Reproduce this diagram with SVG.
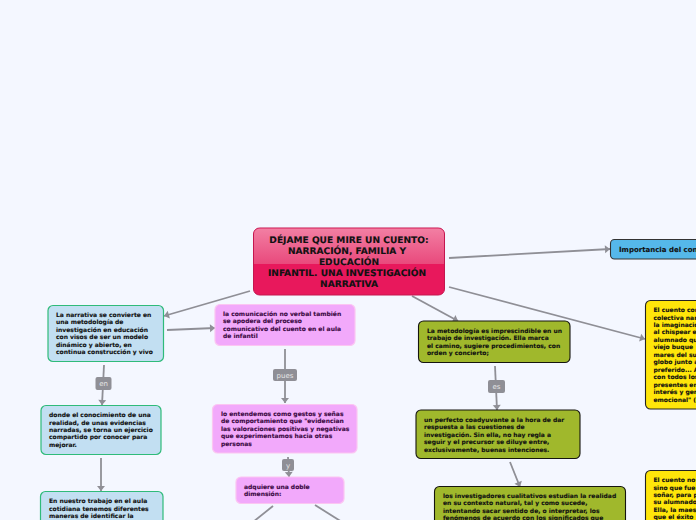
<svg xmlns="http://www.w3.org/2000/svg" width="696" height="520" viewBox="0 0 696 520">
<style>
text{font-family:"DejaVu Sans",Verdana,sans-serif;font-weight:700;font-size:6px;fill:#111;stroke:#111;stroke-width:.12;text-rendering:geometricPrecision}
.h{font-size:9.080px;text-anchor:middle}
.c{fill:none;stroke:#8f8f96;stroke-width:1.8}
.l{fill:#8f8f96}
.lt{fill:#e6e6e6;stroke:none;font-weight:400;font-size:7px;text-anchor:middle}
.blue{fill:#c2dff2;stroke:#2fbb7a;stroke-width:1.2}
.pink{fill:#f2a9fb;stroke:#fbc6f2;stroke-width:1.2}
.pt{fill:#3c0a44;stroke:#3c0a44}
.green{fill:#a0b82c;stroke:#15150f;stroke-width:1.1}
.yellow{fill:#ffe60a;stroke:#222;stroke-width:1.1}
.sky{fill:#55b8ea;stroke:#333;stroke-width:1.1}
</style>
<defs>
<linearGradient id="g" x1="0" y1="0" x2="0" y2="1"><stop offset="0" stop-color="#f27fa3"/><stop offset="1" stop-color="#e9497c"/></linearGradient>
<marker id="a" markerUnits="userSpaceOnUse" markerWidth="10" markerHeight="10" refX="8" refY="5" orient="auto"><path d="M3 1L8 5L3 9Z" fill="#8f8f96"/></marker>
</defs>
<rect width="696" height="520" fill="#f4f7ff"/>
<g id="connectors">
<path class="c" marker-end="url(#a)" d="M449 258L610 249"/>
<path class="c" marker-end="url(#a)" d="M250 291L164 316"/>
<path class="c" marker-end="url(#a)" d="M167 330L215 328"/>
<path class="c" marker-end="url(#a)" d="M412 296L458 321"/>
<path class="c" marker-end="url(#a)" d="M449 287L645 339"/>
<path class="c" marker-end="url(#a)" d="M104 365L102 405"/>
<path class="c" marker-end="url(#a)" d="M101 458L101 491"/>
<path class="c" marker-end="url(#a)" d="M285 349L285 403"/>
<path class="c" marker-end="url(#a)" d="M288 457L289 477"/>
<path class="c" marker-end="url(#a)" d="M495 366L497 410"/>
<path class="c" marker-end="url(#a)" d="M510 462L520 487"/>
<path class="c" d="M273 506L253 522"/>
<path class="c" d="M315 505L342 522"/>
<rect class="l" x="95.500" y="377" width="16" height="13" rx="2"/><text class="lt" x="103.500" y="386">en</text>
<rect class="l" x="273" y="369" width="24" height="12" rx="2"/><text class="lt" x="285" y="378">pues</text>
<rect class="l" x="282" y="459" width="12" height="12" rx="2"/><text class="lt" x="288" y="468">y</text>
<rect class="l" x="488" y="380" width="17" height="13" rx="2"/><text class="lt" x="496.500" y="389">es</text>
</g>
<g id="central">
<rect x="253.500" y="228" width="191" height="67" rx="6" fill="#e8185c" stroke="#c4164f"/>
<path d="M254 264V234a5.500 5.500 0 0 1 5.500-5.500H438.500a5.500 5.500 0 0 1 5.500 5.500V264Z" fill="url(#g)"/>
<text class="h" x="349" y="243">DÉJAME QUE MIRE UN CUENTO:</text>
<text class="h" x="347" y="254">NARRACIÓN, FAMILIA Y</text>
<text class="h" x="349" y="265">EDUCACIÓN</text>
<text class="h" x="347" y="276">INFANTIL. UNA INVESTIGACIÓN</text>
<text class="h" x="349" y="287">NARRATIVA</text>
</g>
<g id="n1"><rect class="blue" x="48" y="305.500" width="115.500" height="56" rx="5"/>
<text x="56" y="317">La narrativa se convierte en</text><text x="56" y="324.400">una metodología de</text><text x="56" y="332">investigación en educación</text><text x="56" y="339">con visos de ser un modelo</text><text x="56" y="346.500">dinámico y abierto, en</text><text x="56" y="354">continua construcción y vivo</text></g>
<g id="n2"><rect class="blue" x="41" y="405.500" width="120" height="49" rx="5"/>
<text x="49" y="417">donde el conocimiento de una</text><text x="49" y="424.500">realidad, de unas evidencias</text><text x="49" y="431.500">narradas, se torna un ejercicio</text><text x="49" y="439">compartido por conocer para</text><text x="49" y="446.500">mejorar.</text></g>
<g id="n3"><rect class="blue" x="40.500" y="491.500" width="122.500" height="50" rx="5"/>
<text x="49" y="503">En nuestro trabajo en el aula</text><text x="49" y="510.500">cotidiana tenemos diferentes</text><text x="49" y="518">maneras de identificar la</text></g>
<g id="p1"><rect class="pink" x="215" y="304.500" width="140" height="41" rx="5"/>
<text class="pt" x="223" y="315.500">la comunicación no verbal también</text><text class="pt" x="223" y="323">se apodera del proceso</text><text class="pt" x="223" y="330.500">comunicativo del cuento en el aula</text><text class="pt" x="223" y="338">de infantil</text></g>
<g id="p2"><rect class="pink" x="212.500" y="404.500" width="144.500" height="48.500" rx="5"/>
<text class="pt" x="221" y="416">lo entendemos como gestos y señas</text><text class="pt" x="221" y="423">de comportamiento que "evidencian</text><text class="pt" x="221" y="430.500">las valoraciones positivas y negativas</text><text class="pt" x="221" y="438">que experimentamos hacia otras</text><text class="pt" x="221" y="446">personas</text></g>
<g id="p3"><rect class="pink" x="236" y="477" width="108" height="26.500" rx="5"/>
<text class="pt" x="244" y="489">adquiere una doble</text><text class="pt" x="244" y="496">dimensión:</text></g>
<g id="g1"><rect class="green" x="418.500" y="321" width="151.500" height="41.500" rx="5"/>
<text x="427" y="333">La metodología es imprescindible en un</text><text x="427" y="340">trabajo de investigación. Ella marca</text><text x="427" y="348">el camino, sugiere procedimientos, con</text><text x="427" y="355">orden y concierto;</text></g>
<g id="g2"><rect class="green" x="416" y="410" width="164" height="48.500" rx="5"/>
<text x="424" y="422">un perfecto coadyuvante a la hora de dar</text><text x="424" y="429">respuesta a las cuestiones de</text><text x="424" y="437">investigación. Sin ella, no hay regla a</text><text x="424" y="444">seguir y el precursor se diluye entre,</text><text x="424" y="452">exclusivamente, buenas intenciones.</text></g>
<g id="g3"><rect class="green" x="434.500" y="486.500" width="191" height="50" rx="5"/>
<text x="443" y="498">los investigadores cualitativos estudian la realidad</text><text x="443" y="505">en su contexto natural, tal y como sucede,</text><text x="443" y="513">intentando sacar sentido de, o interpretar, los</text><text x="443" y="520">fenómenos de acuerdo con los significados que</text></g>
<g id="b1"><rect class="sky" x="610.500" y="239.500" width="100" height="19.500" rx="4"/>
<text style="font-size:7px" x="619" y="252">Importancia del con</text></g>
<g id="y1"><rect class="yellow" x="645.500" y="300.500" width="70" height="108.500" rx="5"/>
<text x="653.500" y="312">El cuento con</text><text x="653.500" y="319.500">colectiva nar</text><text x="653.500" y="327">la imaginació</text><text x="653.500" y="334">al chispear e</text><text x="653.500" y="342">alumnado qu</text><text x="653.500" y="349">viejo buque</text><text x="653.500" y="357">mares del su</text><text x="653.500" y="364">globo junto a</text><text x="653.500" y="372">preferido... A</text><text x="653.500" y="379">con todos los</text><text x="653.500" y="387">presentes en</text><text x="653.500" y="394">interés y ger</text><text x="653.500" y="402">emocional" (</text></g>
<g id="y2"><rect class="yellow" x="645.500" y="470.500" width="70" height="60" rx="5"/>
<text x="653.500" y="482">El cuento no</text><text x="653.500" y="489.500">sino que fue</text><text x="653.500" y="497">soñar, para p</text><text x="653.500" y="504">su alumnado</text><text x="653.500" y="511.500">Ella, la maes</text><text x="653.500" y="519">que el éxito</text></g>
</svg>
